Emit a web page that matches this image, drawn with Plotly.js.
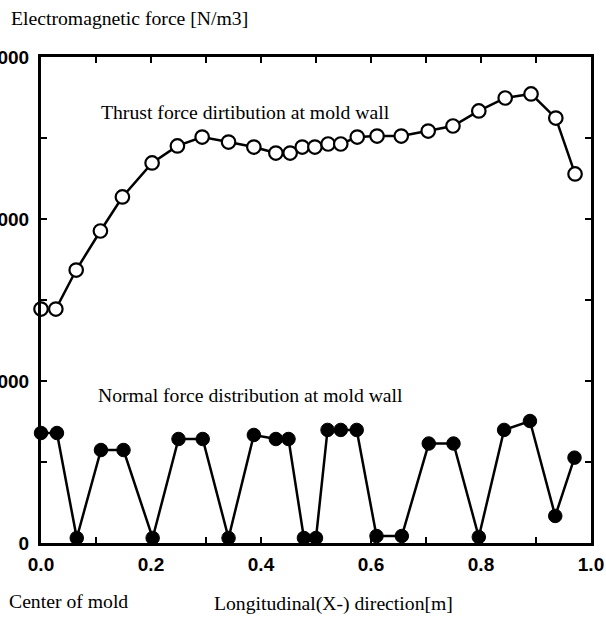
<!DOCTYPE html>
<html><head><meta charset="utf-8">
<script src="https://cdn.plot.ly/plotly-3.0.1.min.js"></script>
<style>html,body{margin:0;padding:0;background:#fff;}</style>
</head><body>
<div id="chart" style="width:606px;height:618px;"></div>
<script>
// Thrust force distribution at mold wall (open circles)
const thrustX = [0.000,0.027,0.064,0.108,0.148,0.202,0.248,0.293,0.341,0.387,0.427,0.453,0.475,0.498,0.522,0.545,0.575,0.611,0.655,0.704,0.749,0.796,0.844,0.891,0.936,0.971];
const thrustY = [1444,1444,1685,1926,2136,2346,2451,2506,2475,2444,2407,2407,2444,2444,2463,2463,2506,2512,2512,2543,2574,2667,2747,2772,2623,2278];
// Normal force distribution at mold wall (filled circles)
const normalX = [0.000,0.029,0.065,0.109,0.150,0.203,0.250,0.294,0.341,0.387,0.427,0.450,0.478,0.500,0.521,0.545,0.574,0.610,0.656,0.705,0.750,0.796,0.842,0.889,0.935,0.970];
const normalY = [679,679,31,574,574,31,642,642,31,667,642,642,31,31,698,698,698,43,43,614,614,37,698,753,167,527];
// Axis ticks
const xTickVals = [0,0.1,0.2,0.3,0.4,0.5,0.6,0.7,0.8,0.9,1.0];
const xTickText = ['0.0','','0.2','','0.4','','0.6','','0.8','','1.0'];
const yTickVals = [0,500,1000,1500,2000,2500,3000];
const yTickText = ['0','','1000','','2000','','3000'];

const traces = [
  {x: thrustX, y: thrustY, mode: 'lines+markers', type: 'scatter',
   line: {color: '#000', width: 2.5},
   marker: {symbol: 'circle', size: 13.5, color: '#fff', line: {color: '#000', width: 2.2}},
   cliponaxis: false, name: 'Thrust'},
  {x: normalX, y: normalY, mode: 'lines+markers', type: 'scatter',
   line: {color: '#000', width: 2.5},
   marker: {symbol: 'circle', size: 13.5, color: '#000', line: {color: '#000', width: 1}},
   cliponaxis: false, name: 'Normal'}
];

const W = 550, H = 486, L = 41, T = 57;
function px(p){ return (p - L) / W; }
function py(p){ return (T + H - p) / H; }
const serif = {family: '"Liberation Serif", "Times New Roman", serif', size: 19.7, color: '#000'};
const tickFont = {family: '"Liberation Sans", Arial, sans-serif', size: 19, color: '#000', weight: 'bold'};

const layout = {
  width: 606, height: 618,
  margin: {l: 41, r: 15, t: 57, b: 75},
  paper_bgcolor: '#fff', plot_bgcolor: '#fff',
  showlegend: false,
  xaxis: {range: [0, 1], tickvals: xTickVals, ticktext: xTickText,
    ticks: 'inside', ticklen: 6, tickwidth: 2, tickcolor: '#000',
    showline: true, linewidth: 3, linecolor: '#000', mirror: 'ticks',
    showgrid: false, zeroline: false, ticklabelstandoff: 2,
    tickfont: tickFont},
  yaxis: {range: [0, 3000], tickvals: yTickVals, ticktext: yTickText,
    ticks: 'inside', ticklen: 6, tickwidth: 2, tickcolor: '#000',
    showline: true, linewidth: 3, linecolor: '#000', mirror: 'ticks',
    showgrid: false, zeroline: false, ticklabelstandoff: 5,
    tickfont: tickFont},
  annotations: [
    {text: 'Electromagnetic force [N/m3]', xref: 'paper', yref: 'paper', x: px(9), y: py(18), xanchor: 'left', yanchor: 'middle', showarrow: false, font: serif},
    {text: 'Thrust force dirtibution at mold wall', xref: 'paper', yref: 'paper', x: px(99), y: py(112), xanchor: 'left', yanchor: 'middle', showarrow: false, font: serif},
    {text: 'Normal force distribution at mold wall', xref: 'paper', yref: 'paper', x: px(96), y: py(395), xanchor: 'left', yanchor: 'middle', showarrow: false, font: serif},
    {text: 'Center of mold', xref: 'paper', yref: 'paper', x: px(7), y: py(601), xanchor: 'left', yanchor: 'middle', showarrow: false, font: serif},
    {text: 'Longitudinal(X-) direction[m]', xref: 'paper', yref: 'paper', x: px(212), y: py(603), xanchor: 'left', yanchor: 'middle', showarrow: false, font: serif}
  ]
};

Plotly.newPlot('chart', traces, layout, {displayModeBar: false, staticPlot: true});
</script>
</body></html>
